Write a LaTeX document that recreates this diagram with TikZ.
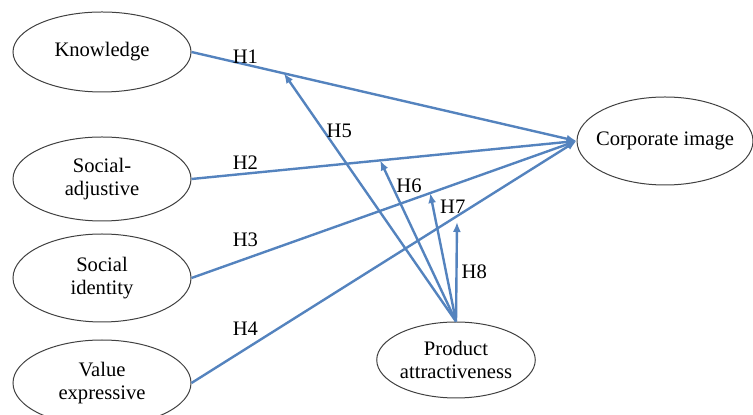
\documentclass[tikz,border=0pt]{standalone}
\usepackage{fontspec}
\setmainfont{Liberation Serif}
\usetikzlibrary{arrows.meta,positioning,shapes}
\definecolor{pathblue}{RGB}{84,131,190}
\tikzset{
    model/.style={>={Latex[length=5pt,width=4pt]},x=0.5pt,y=-0.5pt,
                  font=\fontsize{10.3}{11.5}\selectfont},
    construct/.style={ellipse,draw=black!75,line width=0.5pt,align=center,
                      minimum width=89pt,minimum height=42pt,inner sep=0pt},
    hyp/.style={->,draw=pathblue,line width=1.2pt},
    hlabel/.style={inner sep=1pt},
    }
\begin{document}
\begin{tikzpicture}[model]
    \useasboundingbox (0,0) rectangle (753,415);
    \node[construct,minimum height=40pt] (kn) at (102,52) {Knowledge};
    \node[construct] (sa) at (102,179) {Social-\\adjustive};
    \node[construct,minimum height=44pt] (si) at (102,278) {Social\\identity};
    \node[construct,minimum height=43pt] (ve) at (102,383) {Value\\expressive};
    \node[construct,minimum width=88pt,minimum height=44pt,inner xsep=-4pt] (ci) at (665,141) {Corporate image};
    \node[construct,minimum width=78pt,minimum height=38pt] (pa) at (456,360) {Product\\attractiveness};

    % direct effects
    \draw[hyp] (kn.east) -- node[pos=0.14,above=-1pt,hlabel] {H1} coordinate[pos=0.24] (h5end) (ci.west);
    \draw[hyp] (sa.east) -- node[pos=0.14,above=0.5pt,hlabel] {H2} coordinate[pos=0.49] (h6end) (ci.west);
    \draw[hyp] (si.east) -- node[pos=0.14,above=4.6pt,hlabel] {H3} coordinate[pos=0.62] (h7end) (ci.west);
    \draw[hyp] (ve.east) -- node[pos=0.14,above=5.3pt,hlabel] {H4} (ci.west);

    % moderation
    \coordinate (h8end) at (457,222);
    \draw[hyp] (pa.north) -- node[pos=0.77,right=0pt,hlabel] {H5} (h5end);
    \draw[hyp] (pa.north) -- node[pos=0.84,right=0.5pt,hlabel] {H6} (h6end);
    \draw[hyp] (pa.north) -- node[pos=0.89,right=2pt,hlabel] {H7} (h7end);
    \draw[hyp] (pa.north) -- node[pos=0.5,right=1pt,hlabel] {H8} (h8end);
\end{tikzpicture}
\end{document}
